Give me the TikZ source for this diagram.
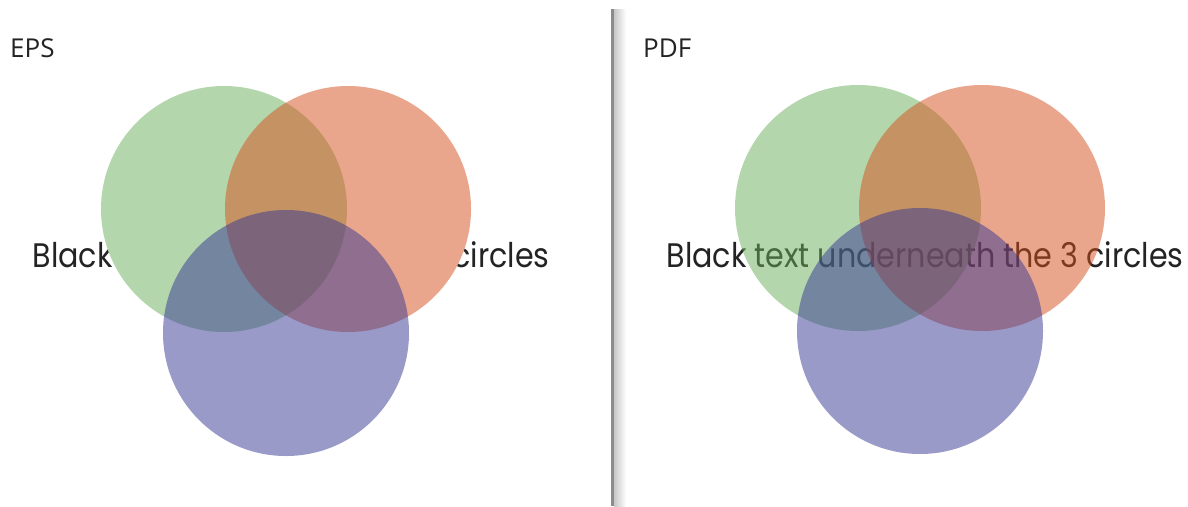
\documentclass[tikz,border=0pt]{standalone}
\usepackage{fontspec}
\setmainfont{Poppins}
\newfontfamily\labelfont{Open Sans}
\definecolor{cgreen}{RGB}{107,175,91}
\definecolor{corange}{RGB}{215,79,27}
\definecolor{cblue}{RGB}{53,55,147}
\definecolor{ctext}{RGB}{35,35,35}
\newcommand{\undertext}{\scalebox{0.887}[1]{Black text underneath the 3 circles}}
\begin{document}
\begin{tikzpicture}[x=1pt,y=-1pt,
  disc/.style={fill=#1,fill opacity=0.5,draw=none},
  paneltitle/.style={font=\labelfont\fontsize{26}{30}\selectfont,text=ctext,anchor=base west,inner sep=0},
  bigtext/.style={font=\fontsize{34}{40}\selectfont,text=ctext,anchor=base,inner sep=0}]
\useasboundingbox (0,0) rectangle (1188,506);
\fill[white] (0,0) rectangle (1188,506);
% divider
\shade[left color=black!22,right color=white] (614,9) rectangle (626,506);
\fill[black!45] (611,9) rectangle (614,506);
% EPS panel
\node[paneltitle] (eps) at (10,57) {EPS};
\node[bigtext] (t1) at (291,267) {\undertext};
\fill[white] (224,209) circle (123) (348,209) circle (123) (286,333) circle (123);
\fill[disc=cgreen] (224,209) circle (123);
\fill[disc=corange] (348,209) circle (123);
\fill[disc=cblue] (286,333) circle (123);
% PDF panel
\node[paneltitle] (pdf) at (643,57) {PDF};
\node[bigtext] (t2) at (925,267) {\undertext};
\fill[disc=cgreen] (858,208) circle (123);
\fill[disc=corange] (982,208) circle (123);
\fill[disc=cblue] (920,331) circle (123);
\end{tikzpicture}
\end{document}
